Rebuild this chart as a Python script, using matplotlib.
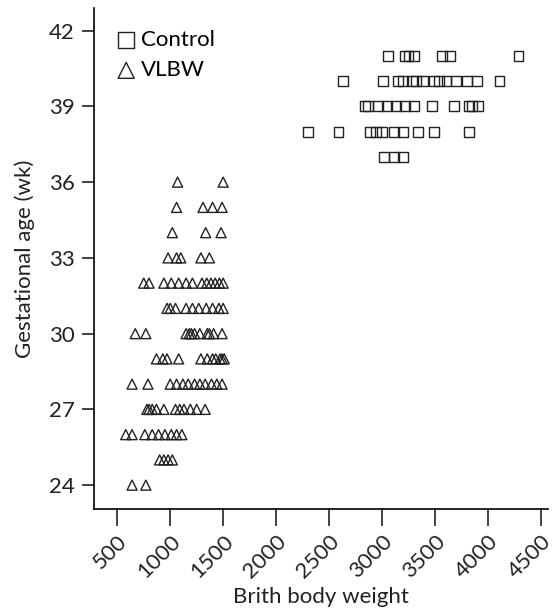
import matplotlib
matplotlib.use("Agg")
import matplotlib.pyplot as plt

# Control group: birth weight (g) and gestational age (wk)
control_weight = [3060, 3220, 3250, 3300, 3570, 3640, 4290,
                  2630, 3010, 3150, 3200, 3280, 3320, 3390, 3490, 3540, 3610, 3700, 3800, 3900, 4110,
                  2840, 2870, 2960, 3050, 3130, 3220, 3300, 3470, 3680, 3820, 3850, 3910,
                  2300, 2590, 2890, 2940, 3000, 3110, 3200, 3340, 3490, 3820,
                  3020, 3110, 3200]
control_ga = [41, 41, 41, 41, 41, 41, 41,
              40, 40, 40, 40, 40, 40, 40, 40, 40, 40, 40, 40, 40, 40,
              39, 39, 39, 39, 39, 39, 39, 39, 39, 39, 39, 39,
              38, 38, 38, 38, 38, 38, 38, 38, 38, 38,
              37, 37, 37]

# VLBW group
vlbw_weight = [1070, 1500,
               1060, 1310, 1400, 1490,
               1020, 1335, 1480,
               980, 1060, 1100, 1290, 1370,
               750, 800, 940, 1010, 1080, 1150, 1210, 1300, 1345, 1385, 1425, 1465, 1500,
               970, 1000, 1050, 1150, 1210, 1270, 1340, 1400, 1460, 1500,
               670, 770, 1150, 1180, 1200, 1230, 1280, 1350, 1370, 1410, 1490,
               870, 930, 970, 1080, 1290, 1350, 1400, 1430, 1470, 1490, 1510,
               640, 790, 1000, 1060, 1120, 1170, 1230, 1280, 1330, 1390, 1440, 1490,
               780, 800, 830, 870, 940, 1050, 1090, 1130, 1190, 1250, 1330,
               580, 640, 760, 830, 890, 950, 1010, 1060, 1110,
               900, 940, 980, 1020,
               640, 770]
vlbw_ga = [36, 36,
           35, 35, 35, 35,
           34, 34, 34,
           33, 33, 33, 33, 33,
           32, 32, 32, 32, 32, 32, 32, 32, 32, 32, 32, 32, 32,
           31, 31, 31, 31, 31, 31, 31, 31, 31, 31,
           30, 30, 30, 30, 30, 30, 30, 30, 30, 30, 30,
           29, 29, 29, 29, 29, 29, 29, 29, 29, 29, 29,
           28, 28, 28, 28, 28, 28, 28, 28, 28, 28, 28, 28,
           27, 27, 27, 27, 27, 27, 27, 27, 27, 27, 27,
           26, 26, 26, 26, 26, 26, 26, 26, 26,
           25, 25, 25, 25,
           24, 24]

x_ticks = [500, 1000, 1500, 2000, 2500, 3000, 3500, 4000, 4500]
y_ticks = [24, 27, 30, 33, 36, 39, 42]

plt.rcParams['font.family'] = ['Lato', 'DejaVu Sans']

fig = plt.figure(figsize=(5.56, 6.09), dpi=100)
ax = fig.add_axes([0.169, 0.164, 0.817, 0.823])

ax.scatter(control_weight, control_ga, marker='s', s=50, facecolors='none',
           edgecolors='#222222', linewidths=1.0, label='Control')
ax.scatter(vlbw_weight, vlbw_ga, marker='^', s=52, facecolors='none',
           edgecolors='#222222', linewidths=1.0, label='VLBW')

ax.set_xlim(280, 4570)
ax.set_ylim(23.05, 42.9)
ax.set_xticks(x_ticks)
ax.set_yticks(y_ticks)
ax.spines['top'].set_visible(False)
ax.spines['right'].set_visible(False)
for s in ['left', 'bottom']:
    ax.spines[s].set_linewidth(1.2)
ax.tick_params(direction='out', width=1.2, labelsize=16, colors='#222222')
ax.tick_params(axis='x', length=12, pad=4)
ax.tick_params(axis='y', length=9, pad=5)
plt.setp(ax.get_xticklabels(), rotation=45, ha='right', rotation_mode='anchor')

ax.set_xlabel('Brith body weight', fontsize=16, color='#222222', labelpad=4)
ax.set_ylabel('Gestational age (wk)', fontsize=16, color='#222222', labelpad=10)

ax.legend(loc='upper left', frameon=False, fontsize=16, handletextpad=0.2,
          borderaxespad=0.6, labelspacing=0.45, handlelength=0.9, markerscale=1.6)

fig.savefig('out.png', dpi=100)
